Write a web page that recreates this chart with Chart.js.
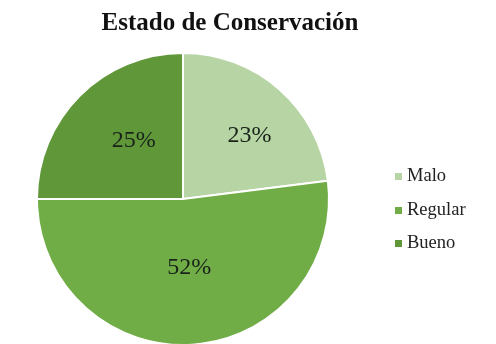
<!DOCTYPE html>
<html>
<head>
<meta charset="utf-8">
<script src="https://cdn.jsdelivr.net/npm/chart.js@4"></script>
<style>
  html, body { margin:0; padding:0; width:496px; height:344px; overflow:hidden; background:#fff; }
  #wrap { position:absolute; left:0; top:0; width:496px; height:360px; }
  #title { position:absolute; left:0; width:460px; top:8px; text-align:center;
           font-family:"Liberation Serif","Times New Roman",serif; font-weight:bold; font-size:25px; color:#111; }
  #legend { position:absolute; left:395px; top:165px; font-family:"Liberation Serif","Times New Roman",serif; font-size:18.5px; color:#222; }
  .item { height:33.5px; display:flex; align-items:flex-start; }
  .sw { width:7px; height:7px; margin-right:5px; margin-top:8px; }
</style>
</head>
<body>
<div id="wrap"><canvas id="c" width="496" height="360"></canvas></div>
<div id="title">Estado de Conservación</div>
<div id="legend"></div>
<script>
const titleText = "Estado de Conservación";
const categories = ["Malo", "Regular", "Bueno"];
const values = [23, 52, 25];
const percentLabels = ["23%", "52%", "25%"];
const colors = ["#b7d5a4", "#70ad47", "#5f9739"];
// label placement style: fraction of radius and angular nudge (degrees) per slice label
const labelRadiusFraction = [0.63, 0.475, 0.525];
const labelAngleNudge = [5, -1.5, 5];

document.getElementById('title').textContent = titleText;
const lg = document.getElementById('legend');
categories.forEach((c, i) => {
  const d = document.createElement('div'); d.className = 'item';
  const s = document.createElement('span'); s.className = 'sw'; s.style.background = colors[i];
  const t = document.createElement('span'); t.textContent = c;
  d.appendChild(s); d.appendChild(t); lg.appendChild(d);
});

const labelPlugin = {
  id: 'pctLabels',
  afterDatasetsDraw(chart) {
    const ctx = chart.ctx;
    const meta = chart.getDatasetMeta(0);
    ctx.save();
    ctx.font = '24px "Liberation Serif", "Times New Roman", serif';
    ctx.fillStyle = '#1a231a';
    ctx.textAlign = 'center';
    ctx.textBaseline = 'middle';
    meta.data.forEach((arc, i) => {
      const p = arc.getProps(['x','y','startAngle','endAngle','outerRadius'], true);
      const mid = (p.startAngle + p.endAngle) / 2 + labelAngleNudge[i] * Math.PI / 180;
      const r = p.outerRadius * labelRadiusFraction[i];
      ctx.fillText(percentLabels[i], p.x + Math.cos(mid) * r, p.y + Math.sin(mid) * r);
    });
    ctx.restore();
  }
};

new Chart(document.getElementById('c'), {
  type: 'pie',
  data: {
    labels: categories,
    datasets: [{ data: values, backgroundColor: colors, borderColor: '#ffffff', borderWidth: 2 }]
  },
  options: {
    responsive: false,
    animation: false,
    layout: { padding: { left: 36, right: 166, top: 52, bottom: 14 } },
    plugins: { legend: { display: false }, title: { display: false }, tooltip: { enabled: false } }
  },
  plugins: [labelPlugin]
});
</script>
</body>
</html>
